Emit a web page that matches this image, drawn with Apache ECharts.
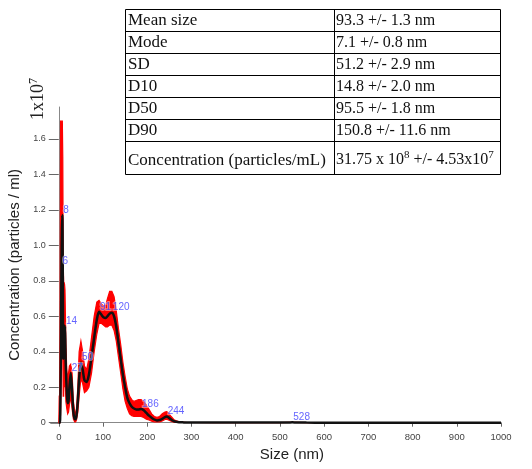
<!DOCTYPE html>
<html>
<head>
<meta charset="utf-8">
<script src="https://cdn.jsdelivr.net/npm/echarts@6/dist/echarts.min.js"></script>
<style>
  html, body { margin: 0; padding: 0; background: #fff; }
  #chart { width: 532px; height: 469px; }
</style>
</head>
<body>
<div id="chart"></div>
<script>
// Particle size distribution (nm) with mean concentration and its error band (x1e7 particles/ml)
const sizes = [
  0, 1, 2, 3, 4, 5, 6, 7, 8, 9, 10, 11, 12, 13, 14, 15, 16,
  18, 20, 22, 24, 27, 30, 33, 36, 38, 40,
  43, 46, 50, 54, 58, 63, 68, 74, 80, 86,
  91, 96, 101, 106, 110, 115, 120, 125, 130, 135,
  140, 145, 150, 155, 160, 165, 170, 175, 180, 186,
  192, 198, 204, 210, 216, 222, 228, 234, 240, 244,
  248, 254, 260, 266, 272, 280, 290, 300, 350, 400,
  450, 500, 520, 528, 536, 560, 600, 700, 800, 900,
  1000
];
const meanConc = [
  0, 0, 0, 0.02, 0.2, 0.5, 0.88, 1.08, 1.17, 0.85, 0.36, 0.45, 0.55, 0.42, 0.545, 0.42, 0.3,
  0.18, 0.11, 0.12, 0.2, 0.28, 0.18, 0.06, 0.02, 0.02, 0.04,
  0.12, 0.25, 0.34, 0.3, 0.24, 0.23, 0.27, 0.37, 0.48, 0.58,
  0.625, 0.61, 0.595, 0.59, 0.6, 0.615, 0.62, 0.6, 0.54, 0.45,
  0.36, 0.27, 0.2, 0.14, 0.11, 0.09, 0.08, 0.075, 0.075, 0.077,
  0.07, 0.055, 0.04, 0.028, 0.018, 0.013, 0.015, 0.022, 0.032, 0.035,
  0.03, 0.018, 0.009, 0.005, 0.003, 0.002, 0.001, 0.001, 0.0005, 0.0005,
  0.0005, 0.0005, 0.0015, 0.002, 0.0015, 0.0005, 0.0003, 0.0003, 0.0003, 0.0003,
  0.0003
];
const upperConc = [
  0, 0.15, 0.15, 0.6, 1.7, 1.7, 1.7, 1.7, 1.7, 1.5, 0.9, 0.79, 0.79, 0.78, 0.75, 0.6, 0.45,
  0.3, 0.25, 0.28, 0.32, 0.33, 0.28, 0.12, 0.06, 0.05, 0.08,
  0.2, 0.4, 0.46, 0.4, 0.32, 0.3, 0.36, 0.48, 0.6, 0.68,
  0.69, 0.67, 0.66, 0.66, 0.7, 0.74, 0.74, 0.71, 0.63, 0.53,
  0.44, 0.34, 0.26, 0.19, 0.15, 0.13, 0.12, 0.125, 0.13, 0.13,
  0.12, 0.1, 0.075, 0.05, 0.035, 0.03, 0.035, 0.05, 0.06, 0.062,
  0.055, 0.035, 0.018, 0.01, 0.005, 0.003, 0.001, 0.001, 0.0005, 0.0005,
  0.0005, 0.0005, 0.0015, 0.002, 0.0015, 0.0005, 0.0003, 0.0003, 0.0003, 0.0003,
  0.0003
];
const lowerConc = [
  0, 0, 0, 0, 0.05, 0.2, 0.5, 0.7, 0.8, 0.4, 0.15, 0.15, 0.3, 0.2, 0.3, 0.2, 0.12,
  0.08, 0.05, 0.06, 0.1, 0.15, 0.08, 0.02, 0.005, 0.005, 0.015,
  0.06, 0.15, 0.25, 0.22, 0.17, 0.18, 0.2, 0.28, 0.4, 0.5,
  0.56, 0.56, 0.55, 0.54, 0.54, 0.55, 0.55, 0.52, 0.46, 0.37,
  0.28, 0.19, 0.12, 0.08, 0.05, 0.04, 0.035, 0.035, 0.035, 0.035,
  0.03, 0.02, 0.015, 0.008, 0.005, 0.004, 0.005, 0.01, 0.018, 0.02,
  0.015, 0.008, 0.003, 0.001, 0.001, 0.001, 0.001, 0.001, 0.0005, 0.0005,
  0.0005, 0.0005, 0.0015, 0.002, 0.0015, 0.0005, 0.0003, 0.0003, 0.0003, 0.0003,
  0.0003
];
// Sizes (nm) of the labelled peaks
const peakSizes = [8, 6, 14, 27, 50, 91, 120, 186, 244, 528];
// Axis ticks
const yTicks = [0, 0.2, 0.4, 0.6, 0.8, 1.0, 1.2, 1.4, 1.6];
// Summary statistics table
const statNames = ['Mean size', 'Mode', 'SD', 'D10', 'D50', 'D90', 'Concentration (particles/mL)'];
const statValues = [
  '93.3 +/- 1.3 nm',
  '7.1 +/- 0.8 nm',
  '51.2 +/- 2.9 nm',
  '14.8 +/- 2.0 nm',
  '95.5 +/- 1.8 nm',
  '150.8 +/- 11.6 nm',
  '31.75 x 10{sup|8} +/- 4.53x10{sup|7}'
];

const chart = echarts.init(document.getElementById('chart'));

const meanPts = sizes.map((s, i) => [s, meanConc[i]]);
const bandPts = sizes.map((s, i) => [s, lowerConc[i], upperConc[i]]);
const peakPts = peakSizes.map(s => [s, meanConc[sizes.indexOf(s)], String(s)]);

const serifFont = '"Liberation Serif", "Times New Roman", serif';
const sansFont = 'Arial, "Liberation Sans", sans-serif';

// Statistics table drawn as graphic elements
const tblLeft = 125, tblMid = 334, tblRight = 500;
const rowEdges = [9, 31, 53, 75, 97, 119, 141, 174];
const graphicEls = [];
graphicEls.push({
  type: 'rect', shape: { x: tblLeft + 0.5, y: rowEdges[0] + 0.5, width: tblRight - tblLeft, height: rowEdges[7] - rowEdges[0] },
  style: { fill: '#fff', stroke: '#000', lineWidth: 1 }, z: 10
});
for (let r = 1; r < rowEdges.length - 1; r++) {
  graphicEls.push({
    type: 'line', shape: { x1: tblLeft, y1: rowEdges[r] + 0.5, x2: tblRight, y2: rowEdges[r] + 0.5 },
    style: { stroke: '#000', lineWidth: 1 }, z: 11
  });
}
graphicEls.push({
  type: 'line', shape: { x1: tblMid + 0.5, y1: rowEdges[0], x2: tblMid + 0.5, y2: rowEdges[7] },
  style: { stroke: '#000', lineWidth: 1 }, z: 11
});
statNames.forEach((name, r) => {
  const last = r === statNames.length - 1;
  const cy = (rowEdges[r] + rowEdges[r + 1]) / 2 + (last ? 3 : 1);
  graphicEls.push({
    type: 'text', x: tblLeft + 3, y: cy, z: 12,
    style: { text: name, fontFamily: serifFont, fontSize: 17, fill: '#111', align: 'left', verticalAlign: 'middle' }
  });
  graphicEls.push({
    type: 'text', x: tblMid + 2, y: cy - (last ? 1 : 0), z: 12,
    style: {
      text: statValues[r], fontFamily: serifFont, fontSize: 16, fill: '#111',
      align: 'left', verticalAlign: 'middle', lineHeight: 20,
      rich: { sup: { fontSize: 11, verticalAlign: 'top', lineHeight: 20, padding: [0, 0, 8, 0], fontFamily: serifFont, fill: '#111' } }
    }
  });
});

// Scale factor of the concentration axis
graphicEls.push({
  type: 'text', x: 38, y: 120, rotation: Math.PI / 2, z: 12,
  style: {
    text: '1x10{s|7}', fontFamily: serifFont, fontSize: 18, fill: '#222',
    align: 'left', verticalAlign: 'middle', lineHeight: 20,
    rich: { s: { fontSize: 12, verticalAlign: 'top', padding: [0, 0, 8, 0], fontFamily: serifFont, fill: '#222' } }
  }
});

const option = {
  animation: false,
  backgroundColor: '#fff',
  grid: { left: 58.8, right: 31, top: 107, bottom: 46.3, outerBoundsMode: 'none', containLabel: false },
  xAxis: {
    type: 'value', min: 0, max: 1000, interval: 100,
    name: 'Size (nm)', nameLocation: 'middle', nameGap: 25,
    nameTextStyle: { fontFamily: sansFont, fontSize: 15, color: '#222', padding: [0, 0, 0, 24] },
    axisLine: { onZero: false, lineStyle: { color: '#888', width: 1 } },
    axisTick: { show: true, length: 4, lineStyle: { color: '#666' } },
    axisLabel: { margin: 10, fontFamily: sansFont, fontSize: 9.5, color: '#444', formatter: v => String(v) },
    splitLine: { show: false }
  },
  yAxis: {
    type: 'value', min: 0, max: 1.78,
    name: 'Concentration (particles / ml)', nameLocation: 'middle', nameGap: 32,
    nameTextStyle: { fontFamily: sansFont, fontSize: 15, color: '#222' },
    axisLine: { show: true, onZero: false, lineStyle: { color: '#888', width: 1 } },
    axisTick: { show: true, length: 10, customValues: yTicks, lineStyle: { color: '#666' } },
    axisLabel: {
      customValues: yTicks, margin: 13, fontFamily: sansFont, fontSize: 9, color: '#444',
      formatter: v => (v === 0 ? '0' : v.toFixed(1))
    },
    splitLine: { show: false }
  },
  series: [
    {
      // error band between the lower and upper concentration curves
      type: 'custom', name: 'band', data: bandPts, encode: { x: 0, y: [1, 2] }, silent: true, z: 2,
      renderItem: (params, api) => {
        if (params.dataIndex !== 0) return null;
        const top = sizes.map((s, i) => api.coord([s, upperConc[i]]));
        const bottom = sizes.map((s, i) => api.coord([s, lowerConc[i]])).reverse();
        return {
          type: 'polygon',
          shape: { points: top.concat(bottom) },
          style: { fill: '#ff0000', stroke: '#ff0000', lineWidth: 1.2 }
        };
      }
    },
    {
      type: 'line', name: 'mean', data: meanPts, symbol: 'none', smooth: 0.3,
      lineStyle: { color: '#111', width: 2.5 }, z: 3
    },
    {
      type: 'scatter', name: 'peaks', data: peakPts, symbolSize: 0, z: 5,
      label: {
        show: true, position: 'right', distance: 1, offset: [0, -5],
        formatter: p => p.data[2],
        fontFamily: sansFont, fontSize: 10, color: '#3c3cff',
        textBorderColor: 'rgba(255,255,255,0.55)', textBorderWidth: 2
      }
    }
  ],
  graphic: graphicEls
};
chart.setOption(option);

// short leftward extension of the size axis line, as in the original plot frame
const origin = chart.convertToPixel({ gridIndex: 0 }, [0, 0]);
chart.setOption({
  graphic: graphicEls.concat([{
    type: 'line', z: 1,
    shape: { x1: origin[0] - 8.5, y1: Math.round(origin[1]) + 0.5, x2: origin[0], y2: Math.round(origin[1]) + 0.5 },
    style: { stroke: '#888', lineWidth: 1 }
  }])
});
</script>
</body>
</html>
